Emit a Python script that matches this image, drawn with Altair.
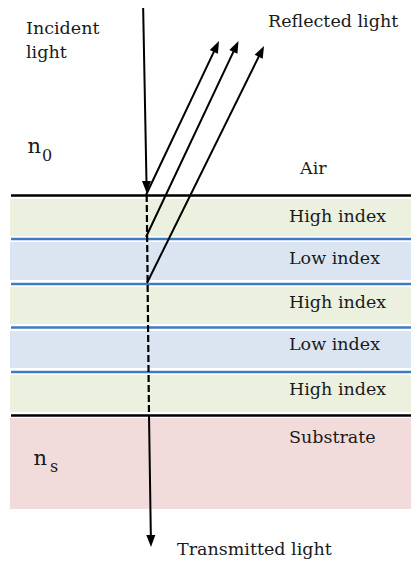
import altair as alt
import pandas as pd
import numpy as np

FONT = "DejaVu Serif"

# ---- layer stack (page-pixel coordinates) ----
layer_names = ["High index", "Low index", "High index", "Low index", "High index", "Substrate"]
layer_top = [199, 242, 287, 331, 375, 418]
layer_bottom = [236, 280, 324, 368, 412, 509]
layer_fill = ["#EBF1DE", "#DBE5F1", "#EBF1DE", "#DBE5F1", "#EBF1DE", "#F2DCDB"]
label_baseline = [222, 264, 308, 350, 395, 443]
label_x = 289
layer_left = 10
layer_right = 419

# ---- interfaces ----
iface_y = [195.5, 239, 284, 327.5, 372, 415.5]
iface_color = ["#000000", "#3F7BC1", "#3F7BC1", "#3F7BC1", "#3F7BC1", "#000000"]
iface_left = 11

# ---- rays: start, end, dashed?, arrow? ----
ray_x1 = [143.0, 146.7, 149.0, 146.0, 146.0, 147.0]
ray_y1 = [0.0, 195.0, 415.0, 195.0, 237.0, 283.0]
ray_x2 = [146.7, 149.0, 151.0, 219.0, 238.5, 264.0]
ray_y2 = [193.0, 415.0, 547.0, 41.0, 41.0, 46.0]
ray_dash = [False, True, False, False, False, False]
ray_arrow = [True, False, True, True, True, True]

# ---- free text ----
txt = ["Incident", "light", "Reflected light", "Air", "Transmitted light"]
txt_x = [26, 26, 268, 300, 177]
txt_y = [34, 58, 27, 174, 555]

sym_main = ["n", "n"]
sym_sub = ["0", "s"]
sym_x = [27.5, 33.5]
sym_y = [153, 465]
sub_x = [42, 50]
sub_y = [161, 471.5]

W, H = 403, 555
xs = alt.Scale(domain=[8, 8 + W], nice=False, zero=False)
ys = alt.Scale(domain=[8, 8 + H], nice=False, zero=False, reverse=True)

layers_df = pd.DataFrame({"name": layer_names, "top": layer_top, "bottom": layer_bottom,
                          "fill": layer_fill, "base": label_baseline,
                          "left": layer_left, "right": layer_right, "lx": label_x})
iface_df = pd.DataFrame({"y": iface_y, "color": iface_color, "left": iface_left, "right": layer_right})

rays = pd.DataFrame({"x1": ray_x1, "y1": ray_y1, "x2": ray_x2, "y2": ray_y2,
                     "dash": ray_dash, "arrow": ray_arrow})
dx = rays.x2 - rays.x1
dy = rays.y2 - rays.y1
ln = np.sqrt(dx ** 2 + dy ** 2)
rays["angle"] = np.degrees(np.arctan2(dx, -dy)) % 360
# shorten arrowed rays slightly so the stroke ends inside the arrowhead
rays["xe"] = np.where(rays.arrow, rays.x2 - dx / ln * 6, rays.x2)
rays["ye"] = np.where(rays.arrow, rays.y2 - dy / ln * 6, rays.y2)

solid = rays[~rays.dash]
dashed = rays[rays.dash]
heads = rays[rays.arrow]

text_df = pd.DataFrame({"t": txt, "x": txt_x, "y": txt_y})
sym_df = pd.DataFrame({"t": sym_main, "x": sym_x, "y": sym_y})
sub_df = pd.DataFrame({"t": sym_sub, "x": sub_x, "y": sub_y})

X = lambda f: alt.X(f, scale=xs, axis=None)
Y = lambda f: alt.Y(f, scale=ys, axis=None)

rects = alt.Chart(layers_df).mark_rect().encode(
    x=X("left:Q"), x2="right:Q", y=Y("top:Q"), y2="bottom:Q",
    color=alt.Color("fill:N", scale=None))

labels = alt.Chart(layers_df).mark_text(align="left", baseline="alphabetic", font=FONT,
                                        fontSize=17.5, color="#1a1a1a").encode(
    x=X("lx:Q"), y=Y("base:Q"), text="name:N")

ifaces = alt.Chart(iface_df).mark_rule(strokeWidth=2.6).encode(
    x=X("left:Q"), x2="right:Q", y=Y("y:Q"),
    color=alt.Color("color:N", scale=None))

solid_rays = alt.Chart(solid).mark_rule(strokeWidth=2, color="black").encode(
    x=X("x1:Q"), x2="xe:Q", y=Y("y1:Q"), y2="ye:Q")

dashed_rays = alt.Chart(dashed).mark_rule(strokeWidth=2.2, color="black", strokeDash=[7, 3]).encode(
    x=X("x1:Q"), x2="xe:Q", y=Y("y1:Q"), y2="ye:Q")

arrow_path = "M0,0L-0.75,2L0.75,2Z"
arrowheads = alt.Chart(heads).mark_point(shape=arrow_path, filled=True, size=144,
                                         color="black", opacity=1).encode(
    x=X("x2:Q"), y=Y("y2:Q"), angle=alt.Angle("angle:Q", scale=None))

texts = alt.Chart(text_df).mark_text(align="left", baseline="alphabetic", font=FONT,
                                     fontSize=17.5, color="#1a1a1a").encode(
    x=X("x:Q"), y=Y("y:Q"), text="t:N")

syms = alt.Chart(sym_df).mark_text(align="left", baseline="alphabetic", font=FONT,
                                   fontSize=21, color="#1a1a1a").encode(
    x=X("x:Q"), y=Y("y:Q"), text="t:N")

subs = alt.Chart(sub_df).mark_text(align="left", baseline="alphabetic", font=FONT,
                                   fontSize=16, color="#1a1a1a").encode(
    x=X("x:Q"), y=Y("y:Q"), text="t:N")

chart = alt.layer(rects, ifaces, dashed_rays, solid_rays, arrowheads,
                  labels, texts, syms, subs).properties(
    width=W, height=H, autosize=alt.AutoSizeParams(type="none"), padding=0,
    background="white"
).configure_view(stroke=None)

chart.save("out.html", embed_options={"renderer": "svg", "actions": False})
